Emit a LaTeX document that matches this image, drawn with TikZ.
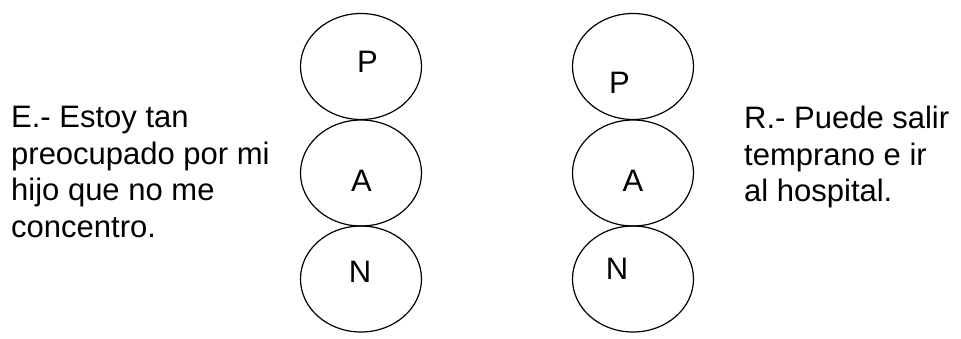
\documentclass[tikz,border=0pt]{standalone}
\usepackage{fontspec}
\setmainfont{Liberation Sans}
\usetikzlibrary{shapes.geometric}
\begin{document}
\begin{tikzpicture}[x=1pt,y=-1pt,
  oval/.style={draw, line width=1.2pt, ellipse, minimum width=121pt, minimum height=106pt, inner sep=0pt},
  letter/.style={inner sep=0pt, font=\fontsize{31}{37}\selectfont},
  para/.style={inner sep=0pt, align=left, anchor=north west, font=\fontsize{31}{36.7}\selectfont}]
\useasboundingbox (0,0) rectangle (961,338);
% left column
\node[oval] (lp) at (361,66.5) {};
\node[oval] (la) at (361,173) {};
\node[oval] (ln) at (361,279) {};
\node[letter] (lpt) at (367.5,62) {P};
\node[letter] (lat) at (361.5,181) {A};
\node[letter] (lnt) at (360,272) {N};
% right column
\node[oval] (rp) at (633,66.5) {};
\node[oval] (ra) at (633,173) {};
\node[oval] (rn) at (633,279) {};
\node[letter] (rpt) at (619.5,83) {P};
\node[letter] (rat) at (633,181) {A};
\node[letter] (rnt) at (617,269) {N};
% texts
\node[para] (etext) at (11,105.8) {E.- Estoy tan\\preocupado por mi\\hijo que no me\\concentro.};
\node[para] (rtext) at (744,105.8) {R.- Puede salir\\temprano e ir\\al hospital.};
\end{tikzpicture}
\end{document}
